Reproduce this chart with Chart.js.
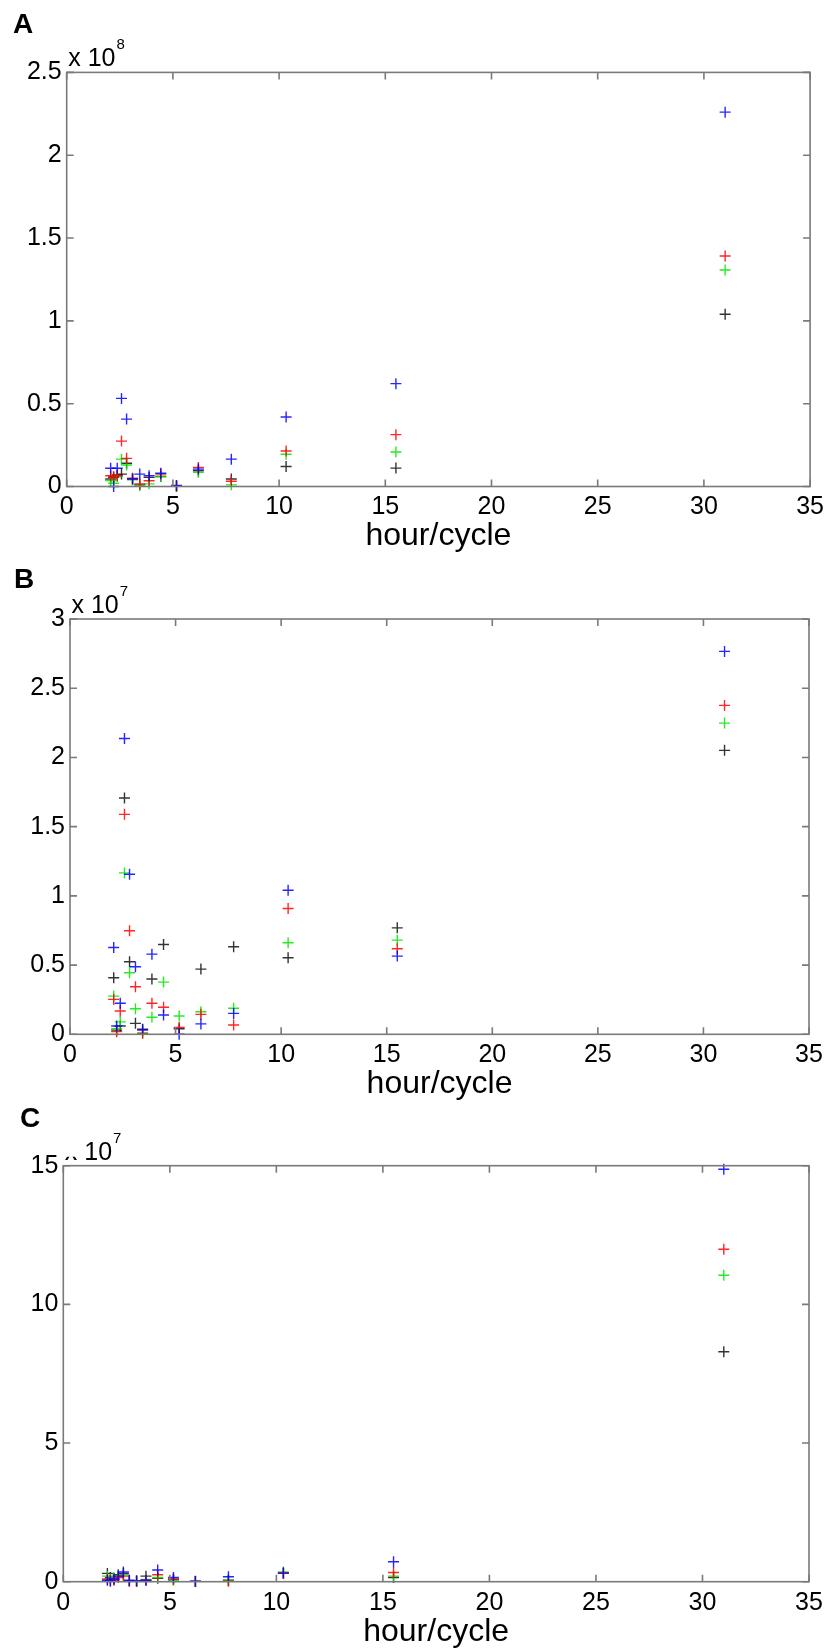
<!DOCTYPE html>
<html><head><meta charset="utf-8">
<script src="https://cdn.jsdelivr.net/npm/chart.js@4.4.1/dist/chart.umd.min.js"></script>
<style>
html,body{margin:0;padding:0;background:#fff;width:830px;height:1649px;overflow:hidden;position:relative}
.pane{position:absolute;left:0;width:830px}
canvas{display:block}
</style></head><body>
<div class="pane" style="top:0px;height:560px"><canvas id="cA" width="830" height="560" style="width:830px;height:560px"></canvas></div>
<div class="pane" style="top:560px;height:545px"><canvas id="cB" width="830" height="545" style="width:830px;height:545px"></canvas></div>
<div class="pane" style="top:1105px;height:544px"><canvas id="cC" width="830" height="544" style="width:830px;height:544px"></canvas></div>
<script>
// ---- data ----
const hours = [2.07, 2.21, 2.38, 2.58, 2.82, 3.10, 3.44, 3.88, 4.43, 5.17, 6.20, 7.75, 10.33, 15.50, 31.00];
const xTicks = [0, 5, 10, 15, 20, 25, 30, 35];
const xTitle = 'hour/cycle';

// Panel A (x 10^8)
const aBlue  = [0.110, 0.000, 0.110, 0.532, 0.407, 0.045, 0.075, 0.065, 0.080, 0.006, 0.105, 0.165, 0.420, 0.621, 2.260];
const aRed   = [0.065, 0.060, 0.065, 0.274, 0.170, 0.050, 0.016, 0.035, 0.075, 0.003, 0.115, 0.032, 0.214, 0.313, 1.392];
const aGreen = [0.036, 0.020, 0.060, 0.165, 0.130, 0.040, 0.006, 0.016, 0.060, 0.002, 0.085, 0.010, 0.195, 0.208, 1.307];
const aBlack = [0.045, 0.055, 0.070, 0.075, 0.140, 0.045, 0.010, 0.055, 0.060, 0.001, 0.095, 0.045, 0.121, 0.111, 1.040];
const yTicksA = [0, 0.5, 1, 1.5, 2, 2.5];

// Panel B (x 10^7)
const bBlue  = [0.627, 0.060, 0.224, 2.137, 1.156, 0.488, 0.031, 0.579, 0.139, 0.000, 0.075, 0.151, 1.041, 0.565, 2.766];
const bRed   = [0.252, 0.019, 0.168, 1.589, 0.748, 0.344, 0.007, 0.224, 0.195, 0.050, 0.144, 0.067, 0.909, 0.618, 2.376];
const bGreen = [0.276, 0.040, 0.090, 1.166, 0.445, 0.185, 0.010, 0.123, 0.377, 0.132, 0.163, 0.188, 0.661, 0.680, 2.248];
const bBlack = [0.409, 0.030, 0.060, 1.707, 0.524, 0.079, 0.036, 0.399, 0.649, 0.040, 0.471, 0.632, 0.553, 0.769, 2.051];
const yTicksB = [0, 0.5, 1, 1.5, 2, 2.5, 3];

// Panel C (x 10^7)
const cBlue  = [0.05, 0.02, 0.10, 0.20, 0.35, 0.05, 0.03, 0.05, 0.42, 0.15, 0.02, 0.18, 0.32, 0.72, 14.87];
const cRed   = [0.10, 0.05, 0.05, 0.15, 0.20, 0.02, 0.02, 0.05, 0.25, 0.10, 0.01, 0.02, 0.30, 0.33, 11.99];
const cGreen = [0.20, 0.10, 0.15, 0.20, 0.25, 0.03, 0.02, 0.08, 0.15, 0.05, 0.01, 0.05, 0.35, 0.20, 11.05];
const cBlack = [0.30, 0.15, 0.10, 0.25, 0.30, 0.03, 0.02, 0.20, 0.12, 0.08, 0.01, 0.05, 0.30, 0.15, 8.29];
const yTicksC = [0, 5, 10, 15];

// ---- style ----
const FONT = "'Liberation Sans', Arial, sans-serif";
const seriesColors = ['rgba(0,0,255,0.85)', 'rgba(255,0,0,0.85)', 'rgba(0,230,0,0.85)', 'rgba(0,0,0,0.8)'];
const W = 830;
const TICK_FS = 25, TITLE_FS = 32;

const panels = [
  {id:'cA', top:0,    height:560, area:{left:66.7, top:72.4,   right:812, bottom:486.5},  yTicks:yTicksA, exp:'8', letter:'A', letterXY:[13,33],   series:[aBlue,aRed,aGreen,aBlack], clipX:false},
  {id:'cB', top:560,  height:545, area:{left:70,   top:619,    right:809, bottom:1034.3}, yTicks:yTicksB, exp:'7', letter:'B', letterXY:[14,588],  series:[bBlue,bRed,bGreen,bBlack], clipX:false},
  {id:'cC', top:1105, height:544, area:{left:63.3, top:1165.7, right:809, bottom:1581.7}, yTicks:yTicksC, exp:'7', letter:'C', letterXY:[20,1127], series:[cBlue,cRed,cGreen,cBlack], clipX:true}
];

const framePlugin = {
  id: 'frame',
  afterDraw(chart, args, o) {
    const ctx = chart.ctx, a = chart.chartArea;
    const xs = chart.scales.x, ys = chart.scales.y;
    ctx.save();
    ctx.strokeStyle = '#7a7a7a';
    ctx.lineWidth = 1.6;
    ctx.strokeRect(a.left, a.top, a.right - a.left, a.bottom - a.top);
    ctx.beginPath();
    const TL = 7;
    xs.ticks.forEach(t => {
      const px = xs.getPixelForValue(t.value);
      ctx.moveTo(px, a.bottom); ctx.lineTo(px, a.bottom - TL);
      ctx.moveTo(px, a.top); ctx.lineTo(px, a.top + TL);
    });
    ys.ticks.forEach(t => {
      const py = ys.getPixelForValue(t.value);
      ctx.moveTo(a.left, py); ctx.lineTo(a.left + TL, py);
      ctx.moveTo(a.right, py); ctx.lineTo(a.right - TL, py);
    });
    ctx.stroke();
    // multiplier
    ctx.fillStyle = '#000';
    ctx.textBaseline = 'alphabetic';
    ctx.textAlign = 'left';
    ctx.font = TICK_FS + 'px ' + FONT;
    const bx = a.left + 1.5, by = a.top - 6;
    const wx = ctx.measureText('x ').width;
    if (o.clipX) {
      ctx.save();
      ctx.beginPath();
      ctx.rect(bx - 2, by - 3, wx + 4, 6);
      ctx.clip();
      ctx.fillText('x', bx, by);
      ctx.restore();
    } else {
      ctx.fillText('x', bx, by);
    }
    ctx.fillText('10', bx + wx, by);
    const w10 = ctx.measureText('10').width;
    ctx.font = '15px ' + FONT;
    ctx.fillText(o.exp, bx + wx + w10 + 1, by - 17);
    // panel letter
    ctx.font = 'bold 28px ' + FONT;
    ctx.fillText(o.letter, o.lx, o.ly);
    ctx.restore();
  }
};

panels.forEach(p => {
  const H = p.height;
  const ar = {left: p.area.left, right: p.area.right, top: p.area.top - p.top, bottom: p.area.bottom - p.top};
  const xAxisH = H - ar.bottom;
  const titleLH = TITLE_FS * 1.2;
  const titlePB = xAxisH - 50 - titleLH / 2;
  const datasets = p.series.map((vals, i) => ({
    data: hours.map((h, k) => ({x: h, y: vals[k]})),
    pointStyle: 'cross',
    pointRadius: 5.5,
    pointBorderWidth: 1.4,
    borderColor: seriesColors[i],
    backgroundColor: seriesColors[i],
    showLine: false,
    clip: false
  }));
  const yMax = p.yTicks[p.yTicks.length - 1];
  new Chart(document.getElementById(p.id), {
    type: 'scatter',
    data: {datasets},
    options: {
      responsive: false,
      animation: false,
      events: [],
      layout: {padding: {top: ar.top, left: 0, right: W - ar.right, bottom: 0}},
      plugins: {
        legend: {display: false},
        tooltip: {enabled: false},
        frame: {exp: p.exp, letter: p.letter, lx: p.letterXY[0], ly: p.letterXY[1] - p.top, clipX: p.clipX}
      },
      scales: {
        x: {
          type: 'linear', min: xTicks[0], max: xTicks[xTicks.length - 1],
          afterBuildTicks: s => { s.ticks = xTicks.map(v => ({value: v})); },
          grid: {display: false, drawTicks: false},
          border: {display: false},
          ticks: {font: {family: FONT, size: TICK_FS}, color: '#000', padding: 6, maxRotation: 0, autoSkip: false, callback: v => String(v)},
          title: {display: true, text: xTitle, font: {family: FONT, size: TITLE_FS}, color: '#000', padding: {top: 0, bottom: titlePB}},
          afterFit: s => { s.height = xAxisH; }
        },
        y: {
          type: 'linear', min: 0, max: yMax,
          afterBuildTicks: s => { s.ticks = p.yTicks.map(v => ({value: v})); },
          grid: {display: false, drawTicks: false},
          border: {display: false},
          ticks: {font: {family: FONT, size: TICK_FS}, color: '#000', padding: 5, autoSkip: false, callback: v => String(v)},
          afterFit: s => { s.width = ar.left; }
        }
      }
    },
    plugins: [framePlugin]
  });
});
</script>
</body></html>
